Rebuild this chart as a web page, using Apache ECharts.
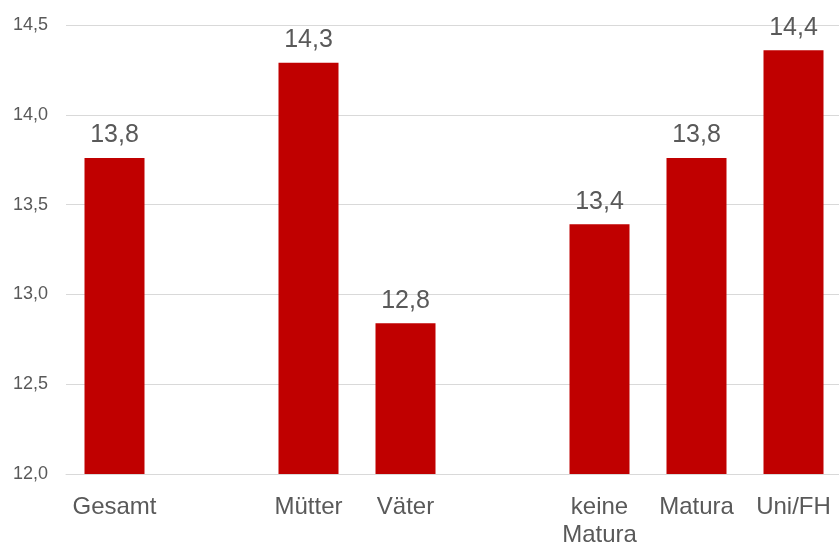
<!DOCTYPE html>
<html>
<head>
<meta charset="utf-8">
<script src="https://cdn.jsdelivr.net/npm/echarts@6/dist/echarts.min.js"></script>
<style>
  html, body { margin: 0; padding: 0; background: #fff; }
  #chart { width: 839px; height: 546px; }
</style>
</head>
<body>
<div id="chart"></div>
<script>
// Kategorien (leere Einträge = Abstand zwischen Gruppen)
const categories = ['Gesamt', '', 'Mütter', 'Väter', '', 'keine\nMatura', 'Matura', 'Uni/FH']
const values = [13.76, null, 14.29, 12.84, null, 13.39, 13.76, 14.36]
const yTicks = { min: 12, max: 14.5, interval: 0.5 }

const fontFamily = 'Arial, "Liberation Sans", sans-serif'
const textColor = '#595959'

const chart = echarts.init(document.getElementById('chart'))
const option = {
  animation: false,
  grid: {
    top: 25,
    bottom: 72,
    left: 66,
    width: 776,
    containLabel: false,
    outerBoundsMode: 'none'
  },
  xAxis: {
    type: 'category',
    data: categories,
    axisLine: { show: true, lineStyle: { color: '#d9d9d9', width: 1 } },
    axisTick: { show: false },
    axisLabel: {
      interval: 0,
      color: textColor,
      fontFamily: fontFamily,
      fontSize: 24,
      lineHeight: 28,
      margin: 19
    }
  },
  yAxis: {
    type: 'value',
    min: yTicks.min,
    max: yTicks.max,
    interval: yTicks.interval,
    axisLine: { show: false },
    axisTick: { show: false },
    splitLine: { lineStyle: { color: '#d9d9d9', width: 1 } },
    axisLabel: {
      color: textColor,
      fontFamily: fontFamily,
      fontSize: 18,
      margin: 18,
      formatter: v => v.toFixed(1).replace('.', ',')
    }
  },
  series: [
    {
      type: 'bar',
      data: values,
      barWidth: 60,
      itemStyle: { color: '#C00000' },
      label: {
        show: true,
        position: 'top',
        distance: 10,
        color: textColor,
        fontFamily: fontFamily,
        fontSize: 25,
        formatter: p => p.value == null ? '' : p.value.toFixed(1).replace('.', ',')
      }
    }
  ]
}
chart.setOption(option)
</script>
</body>
</html>
